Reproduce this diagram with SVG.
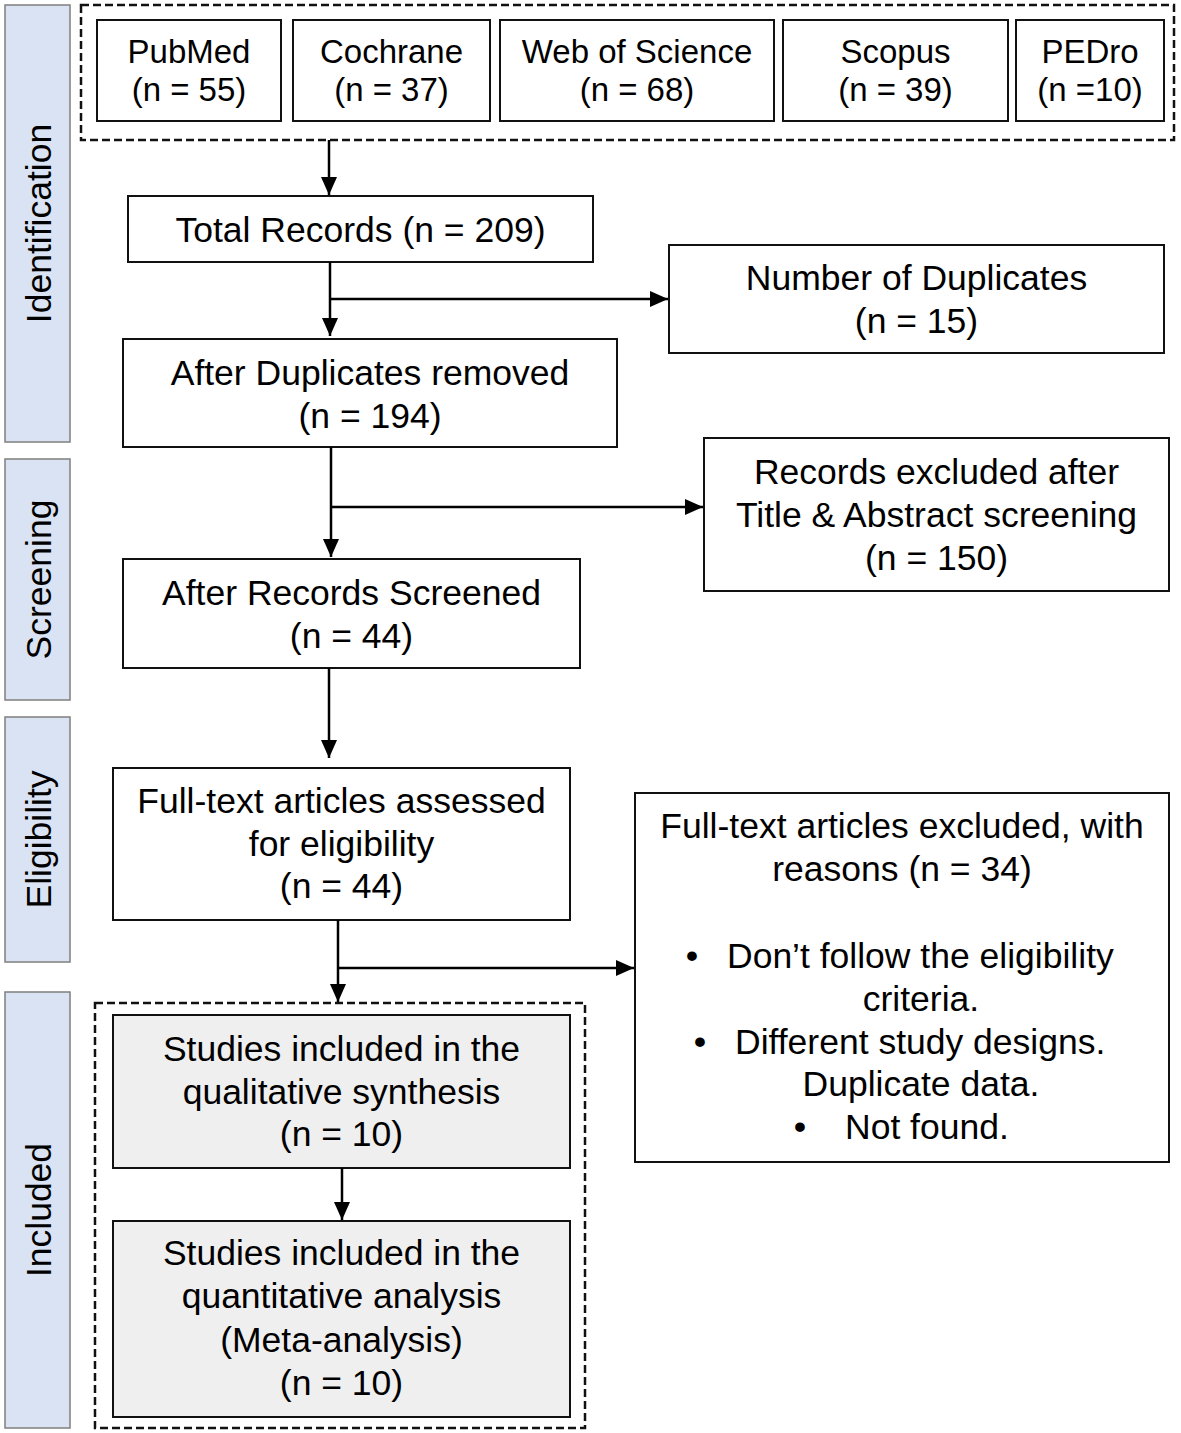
<svg xmlns="http://www.w3.org/2000/svg" width="1181" height="1433" viewBox="0 0 1181 1433">
<style>
  .bg{fill:#ffffff}
  .box{fill:#ffffff;stroke:#111111;stroke-width:2}
  .gbox{fill:#efefef;stroke:#111111;stroke-width:2}
  .side{fill:#dae3f3;stroke:#7f7f7f;stroke-width:1.5}
  .dash{fill:none;stroke:#111111;stroke-width:2.5;stroke-dasharray:8 4}
  .t{font-family:"Liberation Sans",Arial,sans-serif;font-size:35.5px;fill:#000000;text-anchor:middle}
  .ts{font-family:"Liberation Sans",Arial,sans-serif;font-size:33px;fill:#000000;text-anchor:middle}
  .tl{font-family:"Liberation Sans",Arial,sans-serif;font-size:35.5px;fill:#000000;text-anchor:start}
  .con{fill:none;stroke:#000000;stroke-width:2.5}
</style>
<defs>
  <marker id="arr" markerUnits="userSpaceOnUse" markerWidth="18" markerHeight="16" refX="18" refY="8" orient="auto">
    <path d="M0,0 L18,8 L0,16 Z" fill="#000000"/>
  </marker>
</defs>
<rect class="bg" x="0" y="0" width="1181" height="1433"/>

<g id="phase-identification">
  <rect class="side" x="5" y="5" width="65" height="437"/>
  <text class="t" transform="translate(51,223.5) rotate(-90)">Identification</text>
</g>
<g id="phase-screening">
  <rect class="side" x="5" y="459" width="65" height="241"/>
  <text class="t" transform="translate(51,579.5) rotate(-90)">Screening</text>
</g>
<g id="phase-eligibility">
  <rect class="side" x="5" y="717" width="65" height="245"/>
  <text class="t" transform="translate(51,839.5) rotate(-90)">Eligibility</text>
</g>
<g id="phase-included">
  <rect class="side" x="5" y="992" width="65" height="436"/>
  <text class="t" transform="translate(51,1210) rotate(-90)">Included</text>
</g>

<g id="sources-group">
  <rect class="dash" x="81" y="5" width="1093" height="135"/>
</g>
<g id="pubmed">
  <rect class="box" x="97" y="20" width="184" height="101"/>
  <text class="ts" x="189" y="63">PubMed</text>
  <text class="ts" x="189" y="101">(n = 55)</text>
</g>
<g id="cochrane">
  <rect class="box" x="293" y="20" width="197" height="101"/>
  <text class="ts" x="391.5" y="63">Cochrane</text>
  <text class="ts" x="391.5" y="101">(n = 37)</text>
</g>
<g id="wos">
  <rect class="box" x="500" y="20" width="274" height="101"/>
  <text class="ts" x="637" y="63">Web of Science</text>
  <text class="ts" x="637" y="101">(n = 68)</text>
</g>
<g id="scopus">
  <rect class="box" x="783" y="20" width="225" height="101"/>
  <text class="ts" x="895.5" y="63">Scopus</text>
  <text class="ts" x="895.5" y="101">(n = 39)</text>
</g>
<g id="pedro">
  <rect class="box" x="1016" y="20" width="148" height="101"/>
  <text class="ts" x="1090" y="63">PEDro</text>
  <text class="ts" x="1090" y="101">(n =10)</text>
</g>

<g id="total">
  <rect class="box" x="128" y="196" width="465" height="66"/>
  <text class="t" x="360.5" y="242">Total Records (n = 209)</text>
</g>
<g id="duplicates">
  <rect class="box" x="669" y="245" width="495" height="108"/>
  <text class="t" x="916.5" y="290">Number of Duplicates</text>
  <text class="t" x="916.5" y="333">(n = 15)</text>
</g>
<g id="after-dup">
  <rect class="box" x="123" y="339" width="494" height="108"/>
  <text class="t" x="370" y="385">After Duplicates removed</text>
  <text class="t" x="370" y="428">(n = 194)</text>
</g>
<g id="excluded-ta">
  <rect class="box" x="704" y="438" width="465" height="153"/>
  <text class="t" x="936.5" y="484">Records excluded after</text>
  <text class="t" x="936.5" y="527">Title &amp; Abstract screening</text>
  <text class="t" x="936.5" y="570">(n = 150)</text>
</g>
<g id="screened">
  <rect class="box" x="123" y="559" width="457" height="109"/>
  <text class="t" x="351.5" y="605">After Records Screened</text>
  <text class="t" x="351.5" y="648">(n = 44)</text>
</g>
<g id="fulltext">
  <rect class="box" x="113" y="768" width="457" height="152"/>
  <text class="t" x="341.5" y="813">Full-text articles assessed</text>
  <text class="t" x="341.5" y="856">for eligibility</text>
  <text class="t" x="341.5" y="898">(n = 44)</text>
</g>
<g id="fulltext-excluded">
  <rect class="box" x="635" y="793" width="534" height="369"/>
  <text class="t" x="902" y="838">Full-text articles excluded, with</text>
  <text class="t" x="902" y="881">reasons (n = 34)</text>
  <text class="t" x="692" y="968">•</text>
  <text class="tl" x="727" y="968">Don’t follow the eligibility</text>
  <text class="t" x="921" y="1011">criteria.</text>
  <text class="t" x="700" y="1054">•</text>
  <text class="tl" x="735" y="1054">Different study designs.</text>
  <text class="t" x="921" y="1096">Duplicate data.</text>
  <text class="t" x="800" y="1139">•</text>
  <text class="tl" x="845" y="1139">Not found.</text>
</g>

<g id="included-group">
  <rect class="dash" x="95" y="1003" width="490" height="425"/>
</g>
<g id="qualitative">
  <rect class="gbox" x="113" y="1015" width="457" height="153"/>
  <text class="t" x="341.5" y="1061">Studies included in the</text>
  <text class="t" x="341.5" y="1104">qualitative synthesis</text>
  <text class="t" x="341.5" y="1146">(n = 10)</text>
</g>
<g id="quantitative">
  <rect class="gbox" x="113" y="1221" width="457" height="196"/>
  <text class="t" x="341.5" y="1265">Studies included in the</text>
  <text class="t" x="341.5" y="1308">quantitative analysis</text>
  <text class="t" x="341.5" y="1352">(Meta-analysis)</text>
  <text class="t" x="341.5" y="1395">(n = 10)</text>
</g>

<g id="connectors">
  <line class="con" x1="329" y1="140" x2="329" y2="195" marker-end="url(#arr)"/>
  <line class="con" x1="330" y1="262" x2="330" y2="336" marker-end="url(#arr)"/>
  <line class="con" x1="330" y1="299" x2="668" y2="299" marker-end="url(#arr)"/>
  <line class="con" x1="331" y1="447" x2="331" y2="557" marker-end="url(#arr)"/>
  <line class="con" x1="331" y1="507" x2="703" y2="507" marker-end="url(#arr)"/>
  <line class="con" x1="329" y1="668" x2="329" y2="758" marker-end="url(#arr)"/>
  <line class="con" x1="338" y1="920" x2="338" y2="1002" marker-end="url(#arr)"/>
  <line class="con" x1="338" y1="968" x2="634" y2="968" marker-end="url(#arr)"/>
  <line class="con" x1="342" y1="1168" x2="342" y2="1220" marker-end="url(#arr)"/>
</g>
</svg>
